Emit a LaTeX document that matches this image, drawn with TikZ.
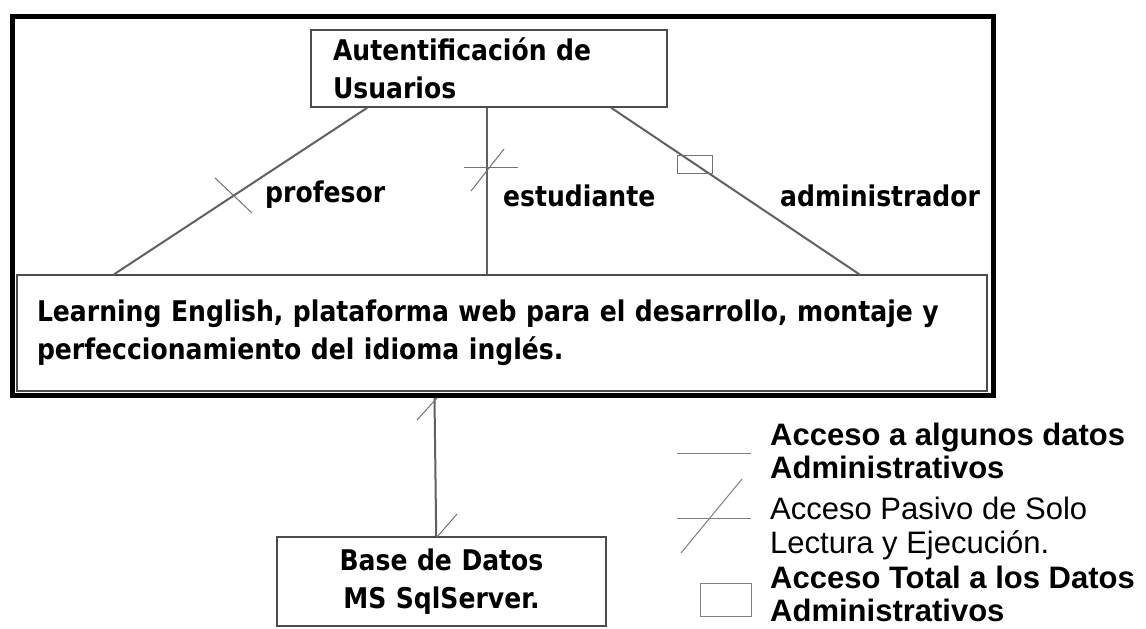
\documentclass[tikz,border=0pt]{standalone}
\usepackage{fontspec}
\newfontfamily\diagfont{DejaVu Sans}[FakeStretch=0.88]
\newfontfamily\legfont{Liberation Sans}
\usetikzlibrary{calc}
\definecolor{boxgray}{gray}{0.3}
\definecolor{linegray}{gray}{0.38}
\definecolor{markgray}{gray}{0.45}
\definecolor{leggray}{gray}{0.5}
\begin{document}
\begin{tikzpicture}[x=1pt,y=-1pt,
  box/.style={draw=boxgray,line width=1.6pt,inner ysep=0pt,
    font=\diagfont\bfseries\fontsize{28.5}{38}\selectfont},
  frame/.style={draw=black,line width=5pt,inner sep=0pt},
  conn/.style={draw=linegray,line width=2pt},
  markline/.style={draw=markgray,line width=1pt},
  legline/.style={draw=leggray,line width=1pt},
  lbl/.style={font=\diagfont\bfseries\fontsize{28.5}{30}\selectfont,anchor=base west,inner sep=0pt},
  legtext/.style={font=\legfont\fontsize{31}{34}\selectfont,align=left,anchor=north west,inner sep=0pt}]
\useasboundingbox (0,0) rectangle (1146,629);
\fill[white] (0,0) rectangle (1146,629);

% outer frame
\node[frame,minimum width=981pt,minimum height=379pt] (frame) at (503,206) {};

% boxes
\node[box,minimum width=356pt,minimum height=77pt,inner xsep=22pt,text width=312pt,align=left]
  (auth) at (489,68.5) {Autentificación de\\Usuarios};
\node[box,minimum width=970pt,minimum height=116pt,inner xsep=20pt,text width=930pt,align=left]
  (main) at (502,333) {Learning English, plataforma web para el desarrollo, montaje y\\perfeccionamiento del idioma inglés.};
\node[box,minimum width=329pt,minimum height=89pt,inner xsep=20pt,text width=289pt,align=center]
  (base) at (441.5,581.5) {Base de Datos\\MS SqlServer.};

% connectors
\draw[conn] ($(auth.south west)+(57,0)$) -- ($(main.north west)+(98,0)$);
\draw[conn] ($(auth.south west)+(177,0)$) -- ($(main.north west)+(471,0)$);
\draw[conn] ($(auth.south west)+(301,0)$) -- ($(main.north west)+(843,0)$);
\draw[conn] ($(frame.south west)+(424.5,0)$) -- ($(base.north west)+(160,0)$);

% connector marks
\draw[markline] (215,178) -- (252,213);
\draw[markline] (464,167) -- (518,167);
\draw[markline] (471,191) -- (504,149);
\draw[markline] (677,155) rectangle (712,173);
\draw[markline] (417,420) -- (437,398);
\draw[markline] (437,537) -- (457,514);

% labels
\node[lbl] (lprof) at (265,202) {profesor};
\node[lbl] (lest) at (503,206) {estudiante};
\node[lbl] (ladm) at (780,206) {administrador};

% legend
\draw[legline] (677,453) -- (751,453);
\draw[legline] (677,518) -- (751,518);
\draw[legline] (681,553) -- (742,479);
\draw[legline] (700,583) rectangle (751,616);
\node[legtext,font=\legfont\bfseries\fontsize{31}{33}\selectfont] (leg1) at (770,422.5) {Acceso a algunos datos\\Administrativos};
\node[legtext] (leg2) at (770,496.5) {Acceso Pasivo de Solo\\Lectura y Ejecución.};
\node[legtext,font=\legfont\bfseries\fontsize{31}{33}\selectfont] (leg3) at (770,566) {Acceso Total a los Datos\\Administrativos};
\end{tikzpicture}
\end{document}
